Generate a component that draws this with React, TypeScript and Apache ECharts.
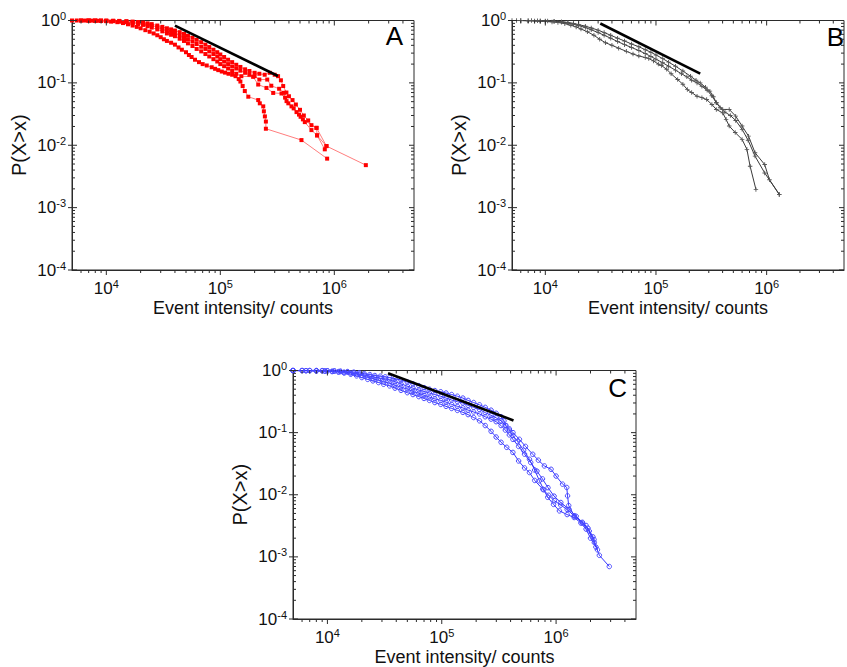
import React, { useEffect, useRef } from "react";
import * as echarts from "echarts";

// ---------- axis ranges ----------
const X_MIN = 5000;
const X_MAX = 5e6;
const Y_MIN = 1e-4;
const Y_MAX = 1;
const X_MAJOR = [1e4, 1e5, 1e6];
const Y_MAJOR = [1e-4, 1e-3, 1e-2, 1e-1, 1];
const X_TITLE = "Event intensity/ counts";
const Y_TITLE = "P(X>x)";
const PANEL_LABELS = ["A", "B", "C"];

// ---------- panel A (red) ----------
const A1 = [[5000,1],[6000,1],[7000,0.995],[8000,0.99],[9000,0.985],[1.0e4,0.975],[1.1e4,0.96],[1.25e4,0.94],[1.4e4,0.91],[1.55e4,0.87],[1.7e4,0.83],[1.85e4,0.79],[2.0e4,0.75],[2.2e4,0.7],[2.4e4,0.66],[2.6e4,0.62],[2.8e4,0.58],[3.0e4,0.54],[3.2e4,0.5],[3.4e4,0.47],[3.7e4,0.44],[4.0e4,0.41],[4.3e4,0.37],[4.6e4,0.34],[5.0e4,0.31],[5.3e4,0.28],[5.6e4,0.26],[6.0e4,0.235],[6.5e4,0.215],[7.0e4,0.2],[7.6e4,0.19],[8.4e4,0.178],[9.0e4,0.168],[9.6e4,0.16],[1.03e5,0.152],[1.1e5,0.146],[1.18e5,0.14],[1.27e5,0.135],[1.36e5,0.128],[1.45e5,0.115],[1.5e5,0.105],[1.57e5,0.089],[1.64e5,0.074],[1.76e5,0.06],[2.15e5,0.053],[2.22e5,0.047],[2.38e5,0.042],[2.41e5,0.035],[2.46e5,0.029],[2.51e5,0.024],[2.51e5,0.0184],[5.15e5,0.0121],[8.65e5,0.0061]];
const A2 = [[5500,1],[6500,0.998],[7500,0.995],[8500,0.99],[1e4,0.985],[1.15e4,0.975],[1.3e4,0.96],[1.5e4,0.94],[1.7e4,0.91],[1.9e4,0.88],[2.1e4,0.85],[2.3e4,0.81],[2.5e4,0.77],[2.8e4,0.72],[3.1e4,0.67],[3.4e4,0.62],[3.7e4,0.59],[4.0e4,0.56],[4.4e4,0.51],[4.8e4,0.47],[5.2e4,0.43],[5.7e4,0.39],[6.2e4,0.35],[6.8e4,0.32],[7.4e4,0.29],[8.0e4,0.265],[8.7e4,0.24],[9.4e4,0.22],[1.0e5,0.2],[1.08e5,0.185],[1.17e5,0.17],[1.27e5,0.155],[1.38e5,0.14],[1.53e5,0.128],[1.94e5,0.125],[2.15e5,0.094],[2.54e5,0.083],[2.91e5,0.069],[3.44e5,0.0676],[3.81e5,0.051],[4.21e5,0.042],[4.66e5,0.034],[5.06e5,0.0286],[5.51e5,0.0235],[6.3e5,0.0175],[7.06e5,0.0144],[8.25e5,0.0086]];
const A3 = [[6000,1],[7000,0.998],[8000,0.996],[9000,0.993],[1.0e4,0.99],[1.15e4,0.985],[1.3e4,0.975],[1.5e4,0.96],[1.7e4,0.94],[1.9e4,0.92],[2.1e4,0.89],[2.3e4,0.86],[2.5e4,0.83],[2.8e4,0.78],[3.1e4,0.73],[3.4e4,0.68],[3.7e4,0.65],[4.0e4,0.62],[4.4e4,0.58],[4.8e4,0.54],[5.2e4,0.5],[5.7e4,0.46],[6.2e4,0.42],[6.8e4,0.38],[7.4e4,0.35],[8.0e4,0.32],[8.7e4,0.29],[9.4e4,0.265],[1.0e5,0.24],[1.08e5,0.22],[1.17e5,0.2],[1.27e5,0.183],[1.38e5,0.17],[1.5e5,0.157],[1.65e5,0.145],[1.8e5,0.135],[2.0e5,0.128],[2.2e5,0.113],[2.58e5,0.113],[2.8e5,0.09],[3.28e5,0.0804],[3.61e5,0.0693],[3.7e5,0.058],[3.95e5,0.047],[4.4e5,0.039],[4.9e5,0.031],[5.3e5,0.026],[6.98e5,0.019],[8.53e5,0.0097],[1.89e6,0.0048]];
const A4 = [[7000,1],[8000,0.999],[9000,0.997],[1.0e4,0.995],[1.15e4,0.99],[1.3e4,0.985],[1.5e4,0.975],[1.7e4,0.96],[1.9e4,0.945],[2.1e4,0.925],[2.3e4,0.9],[2.5e4,0.875],[2.8e4,0.83],[3.1e4,0.79],[3.4e4,0.75],[3.7e4,0.72],[4.0e4,0.69],[4.4e4,0.65],[4.8e4,0.61],[5.2e4,0.57],[5.7e4,0.53],[6.2e4,0.49],[6.8e4,0.45],[7.4e4,0.41],[8.0e4,0.375],[8.7e4,0.34],[9.4e4,0.31],[1.0e5,0.285],[1.08e5,0.26],[1.17e5,0.235],[1.27e5,0.215],[1.38e5,0.195],[1.5e5,0.18],[1.65e5,0.165],[1.8e5,0.155],[2.0e5,0.145],[2.2e5,0.14],[2.45e5,0.135],[2.72e5,0.145],[3.0e5,0.135],[3.21e5,0.128],[3.4e5,0.11],[3.56e5,0.089],[3.8e5,0.07],[4.0e5,0.061],[4.3e5,0.053],[4.6e5,0.045],[5.0e5,0.037],[5.4e5,0.03],[5.9e5,0.025],[6.3e5,0.021],[6.98e5,0.019],[7.06e5,0.0144],[8.53e5,0.0097]];
const A_FIT = [[4.0e4,0.826],[3.2e5,0.129]];

// ---------- panel B (black/grey) ----------
const B1 = [[5000,1],[6000,1],[7000,0.99],[8000,0.985],[9000,0.975],[1e4,0.965],[1.15e4,0.95],[1.3e4,0.93],[1.5e4,0.89],[1.7e4,0.84],[1.9e4,0.79],[2.1e4,0.73],[2.4e4,0.66],[2.75e4,0.58],[3.1e4,0.5],[3.5e4,0.44],[4e4,0.4],[4.6e4,0.36],[5.4e4,0.32],[6.2e4,0.29],[7.0e4,0.27],[8.0e4,0.255],[8.6e4,0.245],[9.5e4,0.225],[1.05e5,0.2],[1.12e5,0.19],[1.25e5,0.165],[1.37e5,0.14],[1.57e5,0.113],[1.75e5,0.095],[1.92e5,0.078],[2.1e5,0.07],[2.35e5,0.061],[2.6e5,0.058],[2.87e5,0.054],[3.2e5,0.045],[3.51e5,0.0375],[4.01e5,0.033],[4.3e5,0.026],[4.59e5,0.0203],[5.2e5,0.016],[6.0e5,0.0124],[6.63e5,0.0086],[7.09e5,0.0046],[8.0e5,0.00196]];
const B2 = [[5500,1],[7000,0.995],[8500,0.99],[1e4,0.98],[1.2e4,0.965],[1.4e4,0.94],[1.6e4,0.91],[1.8e4,0.87],[2.0e4,0.83],[2.3e4,0.77],[2.6e4,0.71],[3.0e4,0.64],[3.4e4,0.58],[3.9e4,0.52],[4.5e4,0.46],[5.2e4,0.41],[6.0e4,0.37],[7.0e4,0.33],[8.0e4,0.295],[9.0e4,0.265],[1.0e5,0.24],[1.15e5,0.21],[1.3e5,0.185],[1.5e5,0.16],[1.7e5,0.14],[1.9e5,0.125],[2.1e5,0.11],[2.35e5,0.1],[2.6e5,0.088],[2.9e5,0.076],[3.2e5,0.062],[3.51e5,0.048],[3.8e5,0.04],[4.2e5,0.034],[4.7e5,0.03],[5.25e5,0.025],[6.0e5,0.018],[6.8e5,0.012],[7.85e5,0.0067],[9.6e5,0.0036],[1.3e6,0.00163]];
const B3 = [[6000,1],[7500,0.998],[9000,0.99],[1.05e4,0.985],[1.2e4,0.975],[1.4e4,0.955],[1.6e4,0.93],[1.8e4,0.9],[2.0e4,0.86],[2.3e4,0.81],[2.6e4,0.76],[3.0e4,0.7],[3.4e4,0.64],[3.9e4,0.58],[4.5e4,0.52],[5.2e4,0.47],[6.0e4,0.42],[7.0e4,0.38],[8.0e4,0.34],[9.0e4,0.31],[1.0e5,0.28],[1.15e5,0.245],[1.3e5,0.215],[1.5e5,0.185],[1.75e5,0.155],[2.05e5,0.128],[2.3e5,0.11],[2.51e5,0.1],[2.8e5,0.085],[3.07e5,0.0737],[3.3e5,0.06],[3.51e5,0.048],[4.01e5,0.0375],[4.59e5,0.0375],[5.25e5,0.0293],[6.0e5,0.0203],[6.86e5,0.014],[7.85e5,0.0076],[9.6e5,0.0049],[1.06e6,0.0028],[1.3e6,0.00163]];
const B_FIT = [[3.14e4,0.895],[2.51e5,0.141]];

// ---------- panel C (blue) ----------
const C1 = [[5000,1],[6000,1],[7000,0.998],[8000,0.997],[9000,0.995],[1e4,0.99],[1.15e4,0.985],[1.3e4,0.975],[1.5e4,0.96],[1.7e4,0.94],[1.9e4,0.92],[2.1e4,0.89],[2.35e4,0.86],[2.6e4,0.83],[2.9e4,0.81],[3.2e4,0.79],[3.5e4,0.77],[3.9e4,0.74],[4.4e4,0.7],[5.0e4,0.65],[5.6e4,0.61],[6.3e4,0.57],[7.0e4,0.53],[7.8e4,0.5],[8.7e4,0.475],[9.8e4,0.455],[1.09e5,0.434],[1.22e5,0.41],[1.37e5,0.385],[1.53e5,0.36],[1.7e5,0.33],[1.9e5,0.305],[2.14e5,0.28],[2.4e5,0.255],[2.7e5,0.23],[2.99e5,0.205],[3.3e5,0.18],[3.5e5,0.155],[3.65e5,0.13],[3.9e5,0.115],[4.2e5,0.1],[4.78e5,0.078],[5.4e5,0.06],[6.25e5,0.0448],[7.0e5,0.036],[7.9e5,0.0291],[9.04e5,0.0257],[1.0e6,0.02],[1.14e6,0.0148],[1.24e6,0.0131],[1.26e6,0.0096],[1.29e6,0.0067],[1.44e6,0.0046],[1.83e6,0.0032],[2.16e6,0.0017],[2.39e6,0.00106],[2.92e6,0.0007]];
const C2 = [[5000,1],[6000,0.998],[7000,0.996],[8000,0.994],[9000,0.99],[1e4,0.985],[1.15e4,0.975],[1.3e4,0.96],[1.5e4,0.94],[1.7e4,0.91],[1.9e4,0.88],[2.1e4,0.85],[2.35e4,0.81],[2.6e4,0.78],[2.9e4,0.75],[3.2e4,0.73],[3.5e4,0.705],[3.9e4,0.66],[4.4e4,0.61],[5.0e4,0.56],[5.6e4,0.52],[6.3e4,0.485],[7.0e4,0.46],[7.8e4,0.434],[8.7e4,0.41],[9.8e4,0.385],[1.09e5,0.36],[1.22e5,0.335],[1.37e5,0.315],[1.53e5,0.3],[1.7e5,0.275],[1.9e5,0.255],[2.14e5,0.235],[2.4e5,0.21],[2.7e5,0.19],[2.99e5,0.173],[3.3e5,0.155],[3.6e5,0.13],[3.9e5,0.11],[4.19e5,0.09],[4.6e5,0.072],[5.2e5,0.052],[5.85e5,0.0372],[6.5e5,0.025],[7.15e5,0.0168],[7.8e5,0.012],[8.45e5,0.0091],[9.5e5,0.007],[1.07e6,0.0055],[1.25e6,0.0048],[1.44e6,0.0043],[1.65e6,0.0035],[1.83e6,0.0028],[2.0e6,0.002],[2.23e6,0.00144]];
const C3 = [[5000,0.998],[6500,0.995],[8000,0.99],[9500,0.985],[1.1e4,0.975],[1.25e4,0.96],[1.4e4,0.94],[1.6e4,0.91],[1.8e4,0.87],[2.0e4,0.83],[2.25e4,0.78],[2.5e4,0.74],[2.8e4,0.7],[3.1e4,0.66],[3.5e4,0.625],[3.9e4,0.58],[4.4e4,0.54],[5.0e4,0.5],[5.6e4,0.46],[6.3e4,0.43],[7.0e4,0.4],[7.8e4,0.374],[8.7e4,0.35],[9.8e4,0.33],[1.09e5,0.31],[1.22e5,0.285],[1.37e5,0.265],[1.53e5,0.25],[1.7e5,0.23],[1.9e5,0.215],[2.14e5,0.2],[2.4e5,0.18],[2.7e5,0.165],[2.99e5,0.15],[3.3e5,0.13],[3.6e5,0.11],[3.9e5,0.092],[4.19e5,0.078],[4.7e5,0.06],[5.3e5,0.045],[6.0e5,0.033],[6.8e5,0.024],[7.6e5,0.018],[8.5e5,0.013],[9.6e5,0.0095],[1.1e6,0.0075],[1.3e6,0.0058],[1.5e6,0.0045],[1.7e6,0.0036],[1.9e6,0.0029],[2.1e6,0.0021],[2.3e6,0.0013]];
const C4 = [[5000,0.995],[6500,0.99],[8000,0.985],[9500,0.975],[1.1e4,0.96],[1.25e4,0.94],[1.4e4,0.91],[1.6e4,0.87],[1.8e4,0.82],[2.0e4,0.77],[2.25e4,0.72],[2.5e4,0.68],[2.8e4,0.64],[3.1e4,0.6],[3.5e4,0.565],[3.9e4,0.52],[4.4e4,0.48],[5.0e4,0.44],[5.6e4,0.41],[6.3e4,0.38],[7.0e4,0.355],[7.8e4,0.33],[8.7e4,0.305],[9.8e4,0.285],[1.09e5,0.265],[1.22e5,0.245],[1.37e5,0.228],[1.53e5,0.212],[1.7e5,0.195],[1.9e5,0.175],[2.14e5,0.155],[2.4e5,0.13],[2.7e5,0.105],[2.99e5,0.085],[3.3e5,0.07],[3.7e5,0.058],[4.19e5,0.048],[4.7e5,0.035],[5.3e5,0.027],[5.85e5,0.0228],[6.5e5,0.017],[7.65e5,0.0123],[8.6e5,0.0098],[9.67e5,0.008],[1.1e6,0.0068],[1.25e6,0.0058],[1.45e6,0.0045],[1.7e6,0.0035],[1.95e6,0.0026],[2.15e6,0.0019]];
const C_FIT = [[3.39e4,0.906],[4.24e5,0.157]];

// ---------- layout ----------
const FONT = "'Liberation Sans', Arial, Helvetica, sans-serif";
const AXIS_COLOR = "#2b2b2b";
const GRIDS = [
  { left: 72, top: 20.5, width: 342, height: 249.5 },
  { left: 512, top: 20.5, width: 343, height: 249.5 },
  { left: 293, top: 370.5, width: 343, height: 250 },
];

function minorTicks(lo: number, hi: number): number[] {
  const out: number[] = [];
  for (let k = Math.floor(Math.log10(lo)); k <= Math.ceil(Math.log10(hi)); k++) {
    for (let m = 2; m <= 9; m++) {
      const v = m * Math.pow(10, k);
      if (v > lo * 1.0001 && v < hi * 0.9999) out.push(v);
    }
  }
  return out;
}

function tickSeries(g: number) {
  const items: number[][] = [];
  minorTicks(X_MIN, X_MAX).forEach((v) => items.push([v, 0.5, 0]));
  X_MAJOR.forEach((v) => items.push([v, 0.5, 1]));
  minorTicks(Y_MIN, Y_MAX).forEach((v) => items.push([1e5, v, 2]));
  Y_MAJOR.forEach((v) => items.push([1e5, v, 3]));
  return {
    type: "custom",
    xAxisIndex: g,
    yAxisIndex: g,
    silent: true,
    clip: false,
    z: 5,
    data: items,
    renderItem: (params: any, api: any) => {
      const kind = api.value(2);
      const st = { stroke: AXIS_COLOR, lineWidth: 1 };
      if (kind <= 1) {
        const v = api.value(0);
        const b = api.coord([v, Y_MIN]);
        const t = api.coord([v, Y_MAX]);
        const len = kind === 1 ? 5 : 3;
        return {
          type: "group",
          children: [
            { type: "line", shape: { x1: b[0], y1: b[1], x2: b[0], y2: b[1] + len }, style: st },
            { type: "line", shape: { x1: t[0], y1: t[1], x2: t[0], y2: t[1] + len }, style: st },
          ],
        };
      }
      const v = api.value(1);
      const l = api.coord([X_MIN, v]);
      const r = api.coord([X_MAX, v]);
      const len = kind === 3 ? 5 : 3;
      const children: any[] = [
        { type: "line", shape: { x1: l[0], y1: l[1], x2: l[0] + len, y2: l[1] }, style: st },
        { type: "line", shape: { x1: r[0] - len, y1: r[1], x2: r[0], y2: r[1] }, style: st },
      ];
      if (kind === 3) {
        children.push({ type: "line", shape: { x1: l[0] - 4, y1: l[1], x2: l[0], y2: l[1] }, style: st });
      }
      return { type: "group", children };
    },
  };
}

function isPow10(v: number) {
  const e = Math.log10(v);
  return Math.abs(e - Math.round(e)) < 1e-6;
}

const richLabel = {
  b: { fontSize: 17, fontFamily: FONT, color: "#111" },
  s: { fontSize: 11, fontFamily: FONT, color: "#111", padding: [0, 0, 9, 0] },
};

function powLabel(v: number) {
  return isPow10(v) ? `{b|10}{s|${Math.round(Math.log10(v))}}` : "";
}

function xAxisFor(g: number) {
  return {
    type: "log",
    logBase: 10,
    gridIndex: g,
    min: X_MIN,
    max: X_MAX,
    name: X_TITLE,
    nameLocation: "middle",
    nameGap: 29,
    nameTextStyle: { fontSize: 18, fontFamily: FONT, color: "#111" },
    axisLine: { show: true, lineStyle: { color: AXIS_COLOR, width: 1 } },
    axisTick: { show: false },
    splitLine: { show: false },
    axisLabel: { margin: 8, fontSize: 17, formatter: powLabel, rich: richLabel },
  };
}

function yAxisFor(g: number) {
  return {
    type: "log",
    logBase: 10,
    gridIndex: g,
    min: Y_MIN,
    max: Y_MAX,
    name: Y_TITLE,
    nameLocation: "middle",
    nameGap: 43,
    nameRotate: 90,
    nameTextStyle: { fontSize: 20, fontFamily: FONT, color: "#111" },
    axisLine: { show: true, lineStyle: { color: AXIS_COLOR, width: 1 } },
    axisTick: { show: false },
    splitLine: { show: false },
    axisLabel: { margin: 6, fontSize: 17, formatter: powLabel, rich: richLabel },
  };
}

const STYLES = [
  {
    symbol: "rect",
    symbolSize: 4,
    lineStyle: { color: "#ff6e6e", width: 0.9 },
    itemStyle: { color: "#ff0000" },
  },
  {
    symbol: "path://M4,0H6V4H10V6H6V10H4V6H0V4H4Z",
    symbolSize: 4.5,
    lineStyle: { color: "#3a3a3a", width: 1 },
    itemStyle: { color: "#555555" },
  },
  {
    symbol: "circle",
    symbolSize: 4.5,
    lineStyle: { color: "#3434ff", width: 1 },
    itemStyle: { color: "rgba(0,0,0,0)", borderColor: "#4a4aff", borderWidth: 1 },
  },
];

function curve(data: number[][], g: number) {
  const s = STYLES[g];
  return {
    type: "line",
    xAxisIndex: g,
    yAxisIndex: g,
    data,
    symbol: s.symbol,
    symbolSize: s.symbolSize,
    showSymbol: true,
    lineStyle: s.lineStyle,
    itemStyle: s.itemStyle,
    silent: true,
    z: 2,
  };
}

function fit(data: number[][], g: number) {
  return {
    type: "line",
    xAxisIndex: g,
    yAxisIndex: g,
    data,
    symbol: "none",
    lineStyle: { color: "#000", width: 2.6 },
    silent: true,
    z: 3,
  };
}

export default function App() {
  const ref = useRef<HTMLDivElement>(null);
  useEffect(() => {
    if (!ref.current) return;
    const chart = echarts.init(ref.current, undefined, { renderer: "svg" });
    const labelPos = [
      { x: 403, y: 36 },
      { x: 844, y: 37 },
      { x: 627, y: 388 },
    ];
    chart.setOption({
      animation: false,
      backgroundColor: "#ffffff",
      textStyle: { fontFamily: FONT },
      grid: GRIDS.map((g) => ({ ...g, show: true, borderColor: AXIS_COLOR, borderWidth: 1, backgroundColor: "transparent" })),
      xAxis: [0, 1, 2].map(xAxisFor),
      yAxis: [0, 1, 2].map(yAxisFor),
      series: [
        curve(A1, 0), curve(A2, 0), curve(A3, 0), curve(A4, 0), fit(A_FIT, 0),
        curve(B1, 1), curve(B2, 1), curve(B3, 1), fit(B_FIT, 1),
        curve(C1, 2), curve(C2, 2), curve(C3, 2), curve(C4, 2), fit(C_FIT, 2),
        tickSeries(0), tickSeries(1), tickSeries(2),
      ],
      graphic: PANEL_LABELS.map((t, i) => ({
        type: "text",
        x: labelPos[i].x,
        y: labelPos[i].y,
        style: { text: t, fontSize: 26, fontFamily: FONT, fill: "#000", textAlign: "right", textVerticalAlign: "middle" },
      })),
    });
    return () => chart.dispose();
  }, []);
  return (
    <div
      ref={ref}
      style={{ position: "absolute", left: 0, top: 0, width: 847, height: 667, background: "#fff" }}
    />
  );
}
